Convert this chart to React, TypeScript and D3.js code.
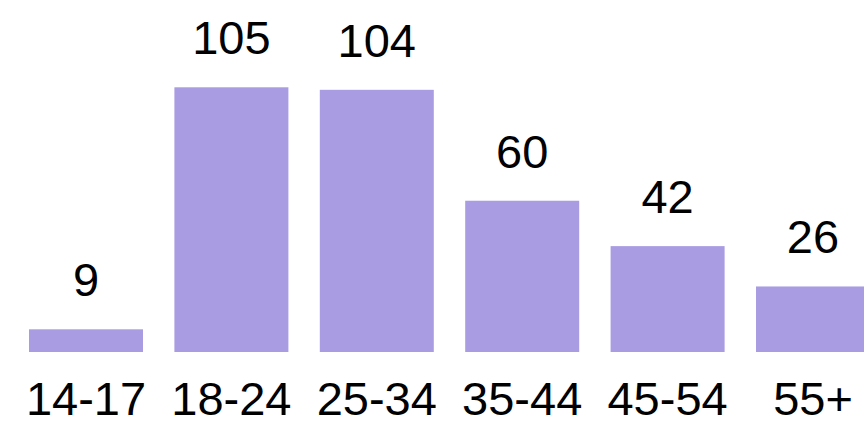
import React from "react";
import * as d3 from "d3";

const categories: string[] = ["14-17", "18-24", "25-34", "35-44", "45-54", "55+"];
const values: number[] = [9, 105, 104, 60, 42, 26];

const W = 864;
const H = 422;
const BASE = 352;
const FONT = "'Liberation Sans', Arial, Helvetica, sans-serif";

export default function App() {
  const x = d3
    .scaleBand<string>()
    .domain(categories)
    .range([13.3, 885.7])
    .paddingInner(0.216)
    .paddingOuter(0.108);
  const y = d3.scaleLinear().domain([0, 105]).range([BASE, 87.3]);

  return (
    <svg
      width={W}
      height={H}
      style={{ position: "absolute", left: 0, top: 0, background: "#fff" }}
    >
      {categories.map((c, i) => {
        const x0 = x(c) as number;
        const bw = x.bandwidth();
        const v = values[i];
        return (
          <g key={c}>
            <rect x={x0} y={y(v)} width={bw} height={BASE - y(v)} fill="#a99ce3" />
            <text
              x={x0 + bw / 2}
              y={y(v) - 33}
              textAnchor="middle"
              fontFamily={FONT}
              fontSize={47}
              fill="#000"
            >
              {v}
            </text>
            <text
              x={x0 + bw / 2}
              y={415}
              textAnchor="middle"
              fontFamily={FONT}
              fontSize={47}
              fill="#000"
            >
              {c}
            </text>
          </g>
        );
      })}
    </svg>
  );
}
